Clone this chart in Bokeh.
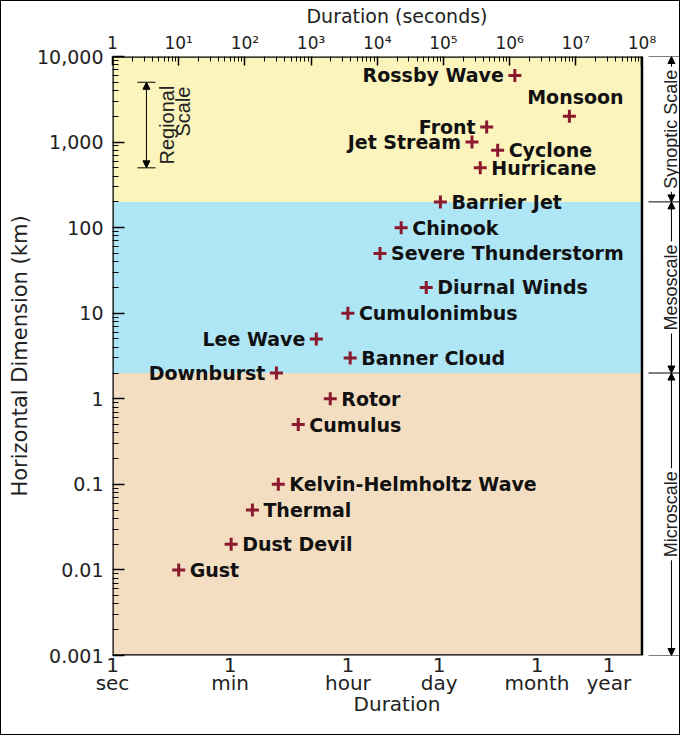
import math
from bokeh.plotting import figure
from bokeh.models import (ColumnDataSource, LogAxis, FixedTicker, Range1d, Arrow,
                          NormalHead)
from bokeh.embed import file_html
from bokeh.resources import INLINE
from bokeh.core.properties import value

# ---------------- data ----------------
names = ["Rossby Wave", "Monsoon", "Front", "Jet Stream", "Cyclone", "Hurricane",
         "Barrier Jet", "Chinook", "Severe Thunderstorm", "Diurnal Winds",
         "Cumulonimbus", "Lee Wave", "Banner Cloud", "Downburst", "Rotor",
         "Cumulus", "Kelvin-Helmholtz Wave", "Thermal", "Dust Devil", "Gust"]
duration_s = [1.2e6, 8e6, 4.5e5, 2.7e5, 6.6e5, 3.6e5,
              9e4, 2.3e4, 1.1e4, 5.5e4,
              3600, 1200, 3900, 300, 1950,
              640, 320, 130, 62, 10]
dimension_km = [6000, 2000, 1500, 1000, 800, 500,
                200, 100, 50, 20,
                10, 5, 3, 2, 1,
                0.5, 0.1, 0.05, 0.02, 0.01]
label_side = ["left", "above", "left", "left", "right", "right",
              "right", "right", "right", "right",
              "right", "left", "right", "left", "right",
              "right", "right", "right", "right", "right"]

scale_names = ["Synoptic Scale", "Mesoscale", "Microscale"]
scale_top_km = [10000, 200, 2]
scale_bottom_km = [200, 2, 0.001]
scale_colors = ["#FBF4BC", "#AEE6F6", "#F4DEC2"]

regional_km = [500, 5000]

sec_ticks = [1, 1e1, 1e2, 1e3, 1e4, 1e5, 1e6, 1e7, 1e8]
sec_labels = ["1", "10¹", "10²", "10³", "10⁴", "10⁵", "10⁶", "10⁷", "10⁸"]
km_ticks = [0.001, 0.01, 0.1, 1, 10, 100, 1000, 10000]
km_labels = ["0.001", "0.01", "0.1", "1", "10", "100", "1,000", "10,000"]
time_ticks_s = [1, 60, 3600, 86400, 2592000, 31536000]
time_units = ["sec", "min", "hour", "day", "month", "year"]

# ---------------- figure ----------------
X_END = 10 ** 8.597
p = figure(width=680, height=735, x_axis_type="log", y_axis_type="log",
           x_range=Range1d(1, X_END), y_range=Range1d(0.001, 10000),
           output_backend="svg", toolbar_location=None,
           min_border_left=111, min_border_right=0, min_border_top=54,
           min_border_bottom=81)
p.styles = {"border": "1.5px solid black"}
p.grid.visible = False
p.outline_line_color = None
p.background_fill_color = "white"
p.border_fill_color = "white"

REG = value("DejaVu Sans")
SANS = value("Liberation Sans")
INK = "#222222"

# bottom axis #1 (the "1" row) -- configure before adding other axes
ba = p.below[0]
ba.ticker = FixedTicker(ticks=time_ticks_s, minor_ticks=[])
ba.major_label_overrides = {t: "1" for t in time_ticks_s}
ba.axis_line_color = None
ba.major_tick_line_color = None
ba.minor_tick_line_color = None
ba.major_label_standoff = -4
ba.major_label_text_font = "DejaVu Sans"
ba.major_label_text_font_size = "20px"
ba.major_label_text_color = INK

# bottom axis #2 (unit names)
ba2 = LogAxis(ticker=FixedTicker(ticks=time_ticks_s, minor_ticks=[]),
              major_label_overrides=dict(zip(time_ticks_s, time_units)),
              axis_label="Duration")
ba2.axis_line_color = None
ba2.major_tick_line_color = None
ba2.minor_tick_line_color = None
ba2.major_label_standoff = -10
ba2.major_label_text_font = "DejaVu Sans"
ba2.major_label_text_font_size = "20px"
ba2.major_label_text_color = INK
ba2.axis_label_text_font = "DejaVu Sans"
ba2.axis_label_text_font_size = "20px"
ba2.axis_label_text_font_style = "normal"
ba2.axis_label_text_color = INK
ba2.axis_label_standoff = -6
p.add_layout(ba2, "below")

minor_y = [m * 10 ** e for e in range(-3, 4) for m in range(2, 10)]
minor_x = [m * 10 ** e for e in range(0, 8) for m in range(2, 10)]

# left axis
ya = p.left[0]
ya.ticker = FixedTicker(ticks=km_ticks, minor_ticks=minor_y)
ya.major_label_overrides = dict(zip(km_ticks, km_labels))
ya.axis_line_color = None
ya.major_tick_in = 12
ya.major_tick_out = 0
ya.minor_tick_in = 6
ya.minor_tick_out = 0
ya.major_tick_line_width = 1.5
ya.major_label_standoff = 9
ya.major_label_text_font = "DejaVu Sans"
ya.major_label_text_font_size = "19px"
ya.major_label_text_color = INK
ya.axis_label = "Horizontal Dimension (km)"
ya.axis_label_text_font = "DejaVu Sans"
ya.axis_label_text_font_size = "21px"
ya.axis_label_text_font_style = "normal"
ya.axis_label_text_color = INK
ya.axis_label_standoff = 2

# top axis (seconds)
ta = LogAxis(ticker=FixedTicker(ticks=sec_ticks, minor_ticks=minor_x),
             major_label_overrides=dict(zip(sec_ticks, sec_labels)),
             axis_label="Duration (seconds)")
ta.axis_line_color = None
ta.major_tick_in = 9
ta.major_tick_out = 0
ta.minor_tick_in = 5
ta.minor_tick_out = 0
ta.major_tick_line_width = 1.5
ta.major_label_standoff = 4
ta.major_label_text_font = "DejaVu Sans"
ta.major_label_text_font_size = "17px"
ta.major_label_text_color = INK
ta.axis_label_text_font = "DejaVu Sans"
ta.axis_label_text_font_size = "19px"
ta.axis_label_text_font_style = "normal"
ta.axis_label_text_color = INK
ta.axis_label_standoff = 3
p.add_layout(ta, "above")

# background bands
p.quad(left=1, right=1e8, bottom=scale_bottom_km, top=scale_top_km,
       fill_color=scale_colors, line_color=None)
# frame box
p.quad(left=[1], right=[1e8], bottom=[0.001], top=[10000],
       fill_color=None, line_color="black", line_width=2.5)

# ---------------- regional scale bracket ----------------
xr = 10 ** 0.513
p.segment(x0=10 ** 0.377, x1=10 ** 0.649, y0=regional_km, y1=regional_km,
          line_color="black", line_width=1)
p.add_layout(Arrow(start=NormalHead(size=7, fill_color="black", line_color="black"),
                   end=NormalHead(size=7, fill_color="black", line_color="black"),
                   x_start=xr, y_start=regional_km[0], x_end=xr, y_end=regional_km[1],
                   line_width=1))
mid_reg = math.sqrt(regional_km[0] * regional_km[1])
p.text(x=[10 ** 0.83], y=[mid_reg], text=["Regional"],
       angle=math.pi / 2, text_align="center", text_baseline="middle",
       text_font=SANS, text_font_size="20px", text_color=INK)
p.text(x=[10 ** 1.07], y=[4460], text=["Scale"],
       angle=math.pi / 2, text_align="right", text_baseline="middle",
       text_font=SANS, text_font_size="20px", text_color=INK)

# ---------------- right-side scale brackets ----------------
xb0 = 10 ** 8.098
xv = 10 ** 8.445
bounds = [10000, 200, 2, 0.001]
p.segment(x0=xb0, x1=X_END, y0=bounds, y1=bounds, line_color="black", line_width=1)
for top, bot in zip(scale_top_km, scale_bottom_km):
    mid = math.sqrt(top * bot)
    for tgt in (top, bot):
        p.add_layout(Arrow(end=NormalHead(size=7, fill_color="black", line_color="black"),
                           x_start=xv, y_start=mid, x_end=xv, y_end=tgt, line_width=1,
                           level="underlay"))
scale_mid = [math.sqrt(t * b) for t, b in zip(scale_top_km, scale_bottom_km)]
p.text(x=[xv] * 3, y=scale_mid, text=scale_names, angle=math.pi / 2,
       text_align="center", text_baseline="middle", text_font=SANS,
       text_font_size="18px", text_color=INK,
       background_fill_color="white", padding=3)

# ---------------- phenomena ----------------
p.scatter(duration_s, dimension_km, marker="cross", size=13, line_width=3,
          line_color="#8B1A2E")

def subset(side):
    idx = [i for i, s in enumerate(label_side) if s == side]
    return ColumnDataSource(dict(x=[duration_s[i] for i in idx],
                                 y=[dimension_km[i] for i in idx],
                                 t=[names[i] for i in idx]))

common = dict(text_font=REG, text_font_style="bold", text_font_size="19px",
              text_color="#111111")
p.text(x="x", y="y", text="t", source=subset("right"), text_align="left",
       text_baseline="middle", x_offset=11, **common)
p.text(x="x", y="y", text="t", source=subset("left"), text_align="right",
       text_baseline="middle", x_offset=-11, **common)
p.text(x="x", y="y", text="t", source=subset("above"), text_align="center",
       text_baseline="middle", x_offset=6, y_offset=-19, **common)

open("out.html", "w").write(file_html(p, INLINE))
